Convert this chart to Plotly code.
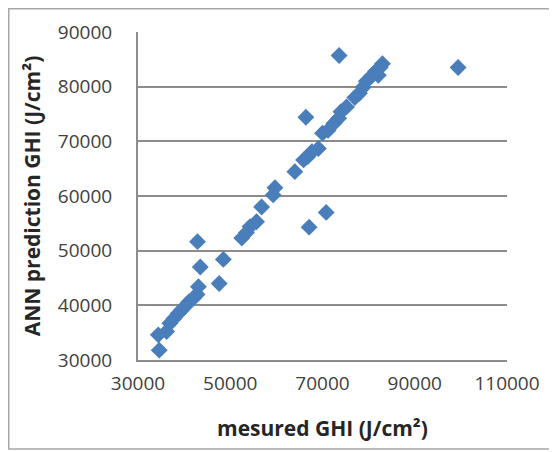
import plotly.graph_objects as go

measured_ghi = [34600, 34400, 36200, 36900, 37800, 38700, 39500, 40200, 41000, 42000,
                42800, 43100, 43500, 42900, 47600, 48500, 52500, 53500, 54300, 55700,
                56800, 59300, 59700, 67100, 70800, 64000, 65900, 66800, 67700, 69100,
                66400, 70000, 71200, 72500, 73500, 74000, 75200, 77000, 78000, 78800,
                79500, 80700, 81500, 82100, 82500, 83000, 73600, 99400]
predicted_ghi = [31800, 34600, 35200, 36700, 37600, 38500, 39200, 39800, 40600, 41300,
                 42000, 43400, 47000, 51650, 44000, 48400, 52300, 53300, 54400, 55300,
                 58000, 60200, 61500, 54300, 57000, 64450, 66600, 67200, 68100, 68700,
                 74400, 71500, 72000, 73300, 74200, 75400, 76300, 78000, 78800, 79900,
                 81000, 82000, 82800, 82100, 83500, 84200, 85700, 83500]

x_ticks = [30000, 50000, 70000, 90000, 110000]
y_ticks = [30000, 40000, 50000, 60000, 70000, 80000, 90000]

FONT = "'Open Sans', Lato, sans-serif"

W, H = 549, 444
L, R, T, B = 130, 50, 24, 92
PW, PH = W - L - R, H - T - B

fig = go.Figure()
fig.add_trace(go.Scatter(
    x=measured_ghi, y=predicted_ghi, mode="markers",
    marker=dict(symbol="diamond", size=13, color="#4A7EBB", line=dict(width=0)),
    showlegend=False,
))

fig.update_layout(
    width=W, height=H,
    margin=dict(l=L, r=R, t=T, b=B),
    paper_bgcolor="white", plot_bgcolor="white",
    font=dict(family=FONT, size=19, color="#404040"),
    xaxis=dict(
        range=[30000, 110000], tickvals=x_ticks, ticktext=[str(v) for v in x_ticks],
        showgrid=False, zeroline=False, showline=True, linecolor="#8c8c8c", linewidth=2,
        mirror=False, ticks="", ticklabelstandoff=5,
        title=dict(text="<b>mesured GHI (J/cm²)</b>", font=dict(size=21, color="#262626"), standoff=27),
    ),
    yaxis=dict(
        range=[30000, 90000], tickvals=y_ticks, ticktext=[str(v) for v in y_ticks],
        showgrid=True, gridcolor="#8c8c8c", gridwidth=2, zeroline=False,
        showline=True, linecolor="#8c8c8c", linewidth=2, ticks="", ticklabelstandoff=20,
        title=dict(text="<b>ANN prediction GHI (J/cm²)</b>", font=dict(size=21, color="#262626"), standoff=12),
    ),
    shapes=[dict(type="rect", xref="paper", yref="paper",
                 x0=(0.75 - L) / PW, x1=(W + 30 - L) / PW,
                 y0=-(441 - (H - B)) / PH, y1=1 + (T - 0.75) / PH,
                 line=dict(color="#a6a6a6", width=1.5), fillcolor="rgba(0,0,0,0)", layer="below")],
)

fig.write_html("out.html")
